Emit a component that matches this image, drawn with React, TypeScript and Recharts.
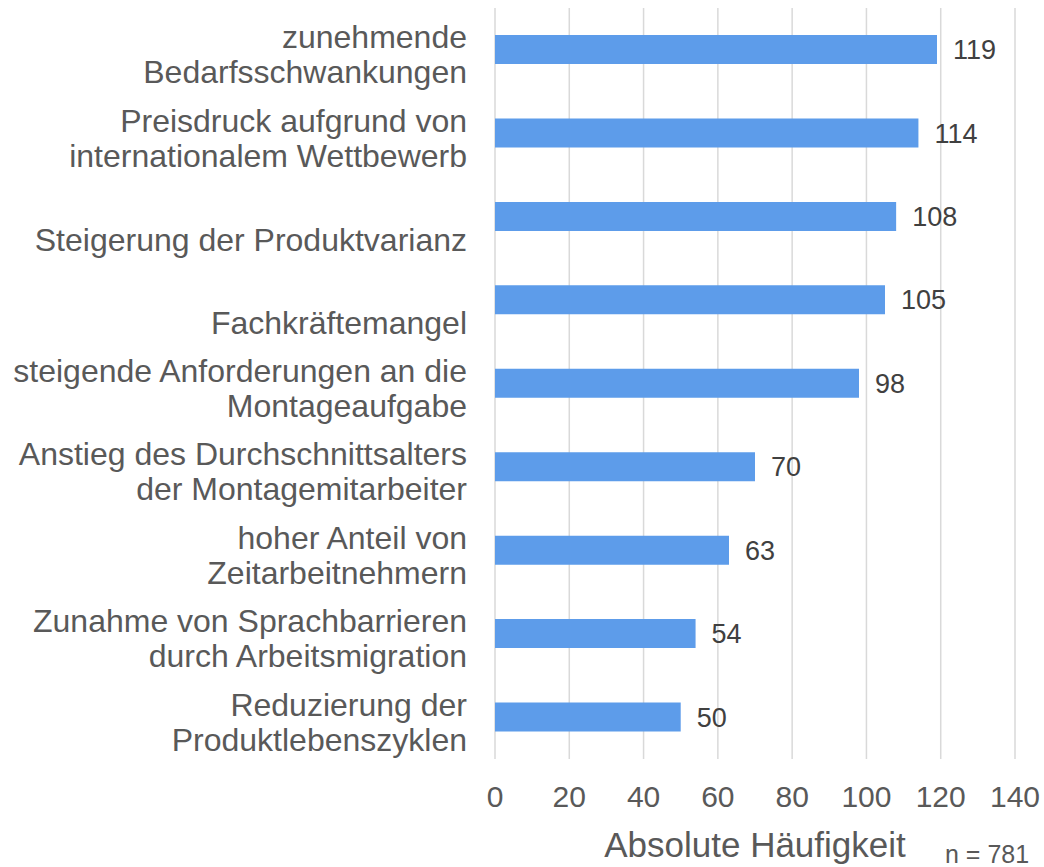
import React from "react";
import { BarChart, Bar, XAxis, YAxis, CartesianGrid, LabelList } from "recharts";

const categories: string[] = [
  "zunehmende\nBedarfsschwankungen",
  "Preisdruck aufgrund von\ninternationalem Wettbewerb",
  "Steigerung der Produktvarianz",
  "Fachkräftemangel",
  "steigende Anforderungen an die\nMontageaufgabe",
  "Anstieg des Durchschnittsalters\nder Montagemitarbeiter",
  "hoher Anteil von\nZeitarbeitnehmern",
  "Zunahme von Sprachbarrieren\ndurch Arbeitsmigration",
  "Reduzierung der\nProduktlebenszyklen",
];
const values: number[] = [119, 114, 108, 105, 98, 70, 63, 54, 50];
const xTicks: number[] = [0, 20, 40, 60, 80, 100, 120, 140];
const axisTitle = "Absolute Häufigkeit";
const sampleNote = "n = 781";

const data = categories.map((c, i) => ({ name: c, value: values[i] }));

const FONT = "'Liberation Sans', Arial, Helvetica, sans-serif";
const TEXT = "#595959";

const CategoryTick = (props: any) => {
  const { x, y, payload } = props;
  const lines: string[] = String(payload.value).split("\n");
  const lineH = 35;
  const first = lines.length === 1 ? 34 : -1.5;
  return (
    <text x={x} y={y} textAnchor="end" fontSize={32} fill={TEXT} fontFamily={FONT}>
      {lines.map((l, i) => (
        <tspan key={i} x={x} y={y + first + i * lineH}>
          {l}
        </tspan>
      ))}
    </text>
  );
};

const ValueTick = (props: any) => {
  const { x, y, payload } = props;
  return (
    <text x={x} y={y + 48} textAnchor="middle" fontSize={30} fill={TEXT} fontFamily={FONT}>
      {payload.value}
    </text>
  );
};

const AxisTitle = (props: any) => {
  const vb = props.viewBox || {};
  const cx = vb.x + vb.width / 2;
  const top = vb.y;
  return (
    <g>
      <text x={cx} y={top + 98} textAnchor="middle" fontSize={35} fill={TEXT} fontFamily={FONT}>
        {axisTitle}
      </text>
      <text x={vb.x + vb.width - 70} y={top + 104} textAnchor="start" fontSize={25} fill={TEXT} fontFamily={FONT}>
        {sampleNote}
      </text>
    </g>
  );
};

export default function App() {
  return (
    <div style={{ position: "absolute", left: 0, top: 0, background: "#fff" }}>
      <BarChart
        width={1044}
        height={867}
        data={data}
        layout="vertical"
        margin={{ top: 8, right: 29, bottom: 8, left: 0 }}
      >
        <CartesianGrid horizontal={false} vertical={true} stroke="#D9D9D9" strokeWidth={1.5} />
        <XAxis
          type="number"
          domain={[0, 140]}
          ticks={xTicks}
          interval={0}
          axisLine={false}
          tickLine={false}
          tickSize={0}
          tickMargin={0}
          height={100}
          tick={<ValueTick />}
          label={<AxisTitle />}
        />
        <YAxis
          type="category"
          dataKey="name"
          width={495}
          axisLine={false}
          tickLine={false}
          tickSize={0}
          tickMargin={28}
          interval={0}
          tick={<CategoryTick />}
        />
        <Bar dataKey="value" fill="#5D9CEA" barSize={29} isAnimationActive={false}>
          <LabelList
            dataKey="value"
            position="right"
            offset={16}
            fontSize={27}
            fill="#404040"
            fontFamily={FONT}
          />
        </Bar>
      </BarChart>
    </div>
  );
}
